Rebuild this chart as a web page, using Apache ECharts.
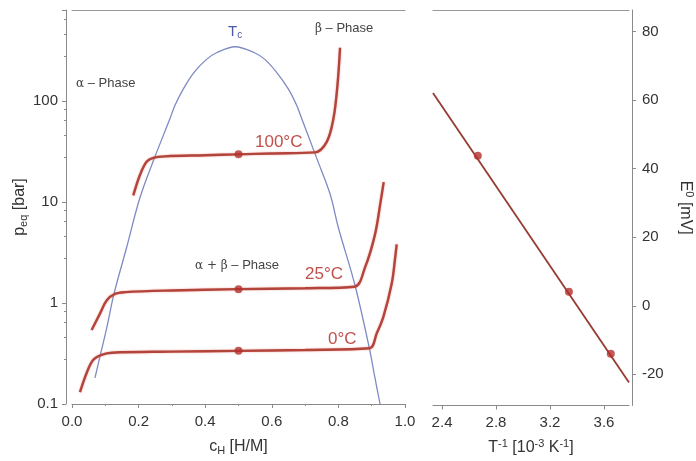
<!DOCTYPE html>
<html>
<head>
<meta charset="utf-8">
<script src="https://cdn.jsdelivr.net/npm/echarts@6/dist/echarts.min.js"></script>
<style>
  html, body { margin: 0; padding: 0; background: #fff; }
  #chart { width: 696px; height: 461px; }
</style>
</head>
<body>
<div id="chart"></div>
<script>
// miscibility gap (blue dome), c_H [H/M] vs p [bar]
const domeC = [0.069, 0.084, 0.104, 0.126, 0.164, 0.204, 0.249, 0.294, 0.309, 0.334, 0.366, 0.404, 0.434, 0.49, 0.548, 0.579, 0.615, 0.65, 0.675, 0.69, 0.735, 0.775, 0.80, 0.85, 0.893, 0.91, 0.925]
const domeP = [0.181, 0.296, 0.56, 1.23, 3.54, 11, 28, 66.6, 90, 131, 191, 258, 300, 344, 300, 258, 191, 131, 90, 66.6, 27, 12, 5.56, 1.49, 0.356, 0.18, 0.1]

// isotherms
const iso100C = [0.184, 0.204, 0.224, 0.244, 0.28, 0.40, 0.50, 0.60, 0.73, 0.765, 0.785, 0.797, 0.805]
const iso100P = [11.6, 18.5, 25, 27.3, 28.3, 29, 29.6, 30.2, 31, 39.4, 66.6, 141, 336]
const iso25C = [0.059, 0.084, 0.104, 0.129, 0.16, 0.30, 0.50, 0.70, 0.848, 0.88, 0.91, 0.927, 0.936]
const iso25P = [0.54, 0.785, 1.06, 1.23, 1.28, 1.33, 1.37, 1.40, 1.45, 2.25, 4.78, 10.2, 15.7]
const iso0C = [0.024, 0.044, 0.064, 0.089, 0.12, 0.30, 0.50, 0.70, 0.893, 0.915, 0.935, 0.96, 0.971, 0.975]
const iso0P = [0.131, 0.203, 0.274, 0.307, 0.322, 0.33, 0.336, 0.343, 0.356, 0.5, 0.73, 1.55, 2.9, 3.8]
const plateauC = [0.5, 0.5, 0.5]
const plateauP = [29.6, 1.37, 0.336]

// E0 vs 1/T
const fitX = [2.333, 3.785]
const fitE = [62.1, -22.4]
const invT = [2.665, 3.34, 3.65]
const e0 = [43.8, 4.1, -14.0]

const xTicksRight = [2.4, 2.8, 3.2, 3.6]
const yTicksRight = [-20, 0, 20, 40, 60, 80]

const zip = (a, b) => a.map((v, i) => [v, b[i]])

const FONT = "'Liberation Sans', Arial, sans-serif"
const RED = "#b3443b"
const axisGray = "#8a8a8a"
const labelStyle = { color: "#333", fontSize: 15, fontFamily: FONT }
const subRich = {
    sub: { fontSize: 11, fontFamily: FONT, color: "#333", padding: [8, 0, 0, 0] },
    sup: { fontSize: 11, fontFamily: FONT, color: "#333", padding: [0, 0, 8, 0] },
}
const nameStyle = { color: "#333", fontSize: 16, fontFamily: FONT, rich: subRich }

const chart = echarts.init(document.getElementById("chart"), null, { renderer: "canvas" })

const greek = { fontFamily: "'DejaVu Serif', serif", fontSize: 12, fill: "#444" }
const txt = (left, top, text, extra) => ({
    type: "text", left: left, top: top, silent: true,
    style: Object.assign({ text: text, font: "13px " + FONT, fill: "#444" }, extra || {}),
})

const isoLine = data => ({
    type: "line", xAxisIndex: 0, yAxisIndex: 0, data: data,
    smooth: 0.35, showSymbol: false,
    lineStyle: { color: RED, width: 2.4, shadowColor: "rgba(225,110,100,0.6)", shadowBlur: 2 },
})

let option = {
    animation: false,
    backgroundColor: "#fff",
    grid: [
        { left: 72, right: 291, top: 10, bottom: 54 },
        { left: 433, right: 67, top: 10, bottom: 54 },
    ],
    xAxis: [
        {
            gridIndex: 0, type: "value", min: 0, max: 1, interval: 0.2,
            name: "c{sub|H} [H/M]", nameLocation: "middle", nameGap: 33, nameTextStyle: nameStyle,
            axisLine: { onZero: false, lineStyle: { color: axisGray } },
            axisTick: { length: 4, lineStyle: { color: axisGray } },
            minorTick: { show: true, splitNumber: 2, length: 2, lineStyle: { color: axisGray } },
            axisLabel: Object.assign({ margin: 10, formatter: v => v.toFixed(1) }, labelStyle),
            splitLine: { show: false },
        },
        {
            gridIndex: 1, type: "value", min: 2.333, max: 3.785,
            name: "T{sup|-1} [10{sup|-3} K{sup|-1}]", nameLocation: "middle", nameGap: 33, nameTextStyle: nameStyle,
            axisLine: { onZero: false, lineStyle: { color: axisGray } },
            axisTick: { length: 4, customValues: xTicksRight, lineStyle: { color: axisGray } },
            axisLabel: Object.assign({ margin: 10, customValues: xTicksRight, formatter: v => v.toFixed(1) }, labelStyle),
            splitLine: { show: false },
        },
        {
            gridIndex: 0, type: "value", position: "top", min: 0, max: 1,
            axisLine: { onZero: false, lineStyle: { color: "#999" } }, axisTick: { show: false }, axisLabel: { show: false }, splitLine: { show: false },
        },
        {
            gridIndex: 1, type: "value", position: "top", min: 2.333, max: 3.785,
            axisLine: { onZero: false, lineStyle: { color: "#999" } }, axisTick: { show: false }, axisLabel: { show: false }, splitLine: { show: false },
        },
    ],
    yAxis: [
        {
            gridIndex: 0, type: "log", logBase: 10, min: 0.1, max: 795, offset: 6,
            name: "p{sub|eq} [bar]", nameLocation: "middle", nameGap: 36, nameTextStyle: nameStyle,
            axisLine: { show: true, onZero: false, lineStyle: { color: axisGray } },
            axisTick: { show: true, length: 4, lineStyle: { color: axisGray } },
            minorTick: { show: true, length: 2, lineStyle: { color: axisGray } },
            axisLabel: Object.assign({ margin: 8, showMaxLabel: false }, labelStyle),
            splitLine: { show: false },
        },
        {
            gridIndex: 1, type: "value", position: "right", min: -29.1, max: 86.3, offset: 3,
            name: "E{sup|0} [mV]", nameLocation: "middle", nameGap: 44, nameRotate: -90, nameTextStyle: nameStyle,
            axisLine: { show: true, onZero: false, lineStyle: { color: axisGray } },
            axisTick: { show: true, length: 4, customValues: yTicksRight, lineStyle: { color: axisGray } },
            axisLabel: Object.assign({ margin: 10, customValues: yTicksRight }, labelStyle),
            splitLine: { show: false },
        },
    ],
    graphic: [
        txt(228, 24, "T{s|c}", { font: "15px " + FONT, fill: "#4d5ba6", rich: { s: { fontSize: 10, fill: "#4d5ba6", padding: [8, 0, 0, 0] } } }),
        txt(315, 22, "{g|β} – Phase", { rich: { g: greek } }),
        txt(76, 77, "{g|α} – Phase", { rich: { g: greek } }),
        txt(195, 259, "{g|α + β} – Phase", { rich: { g: greek } }),
        txt(255, 134, "100°C", { font: "17px " + FONT, fill: "#c0504a" }),
        txt(305, 266, "25°C", { font: "17px " + FONT, fill: "#c0504a" }),
        txt(328, 331, "0°C", { font: "17px " + FONT, fill: "#c0504a" }),
    ],
    series: [
        {
            type: "line", xAxisIndex: 0, yAxisIndex: 0, data: zip(domeC, domeP),
            smooth: 0.35, showSymbol: false, lineStyle: { color: "#7f8ac4", width: 1.3 },
        },
        isoLine(zip(iso100C, iso100P)),
        isoLine(zip(iso25C, iso25P)),
        isoLine(zip(iso0C, iso0P)),
        {
            type: "scatter", xAxisIndex: 0, yAxisIndex: 0, data: zip(plateauC, plateauP),
            symbolSize: 8, itemStyle: { color: "#b3302c" }, z: 5,
        },
        {
            type: "line", xAxisIndex: 1, yAxisIndex: 1, data: zip(fitX, fitE),
            showSymbol: false, lineStyle: { color: "#963b31", width: 1.8 },
        },
        {
            type: "scatter", xAxisIndex: 1, yAxisIndex: 1, data: zip(invT, e0),
            symbolSize: 8, itemStyle: { color: "#b3302c" }, z: 5,
        },
    ],
}

chart.setOption(option)
</script>
</body>
</html>
